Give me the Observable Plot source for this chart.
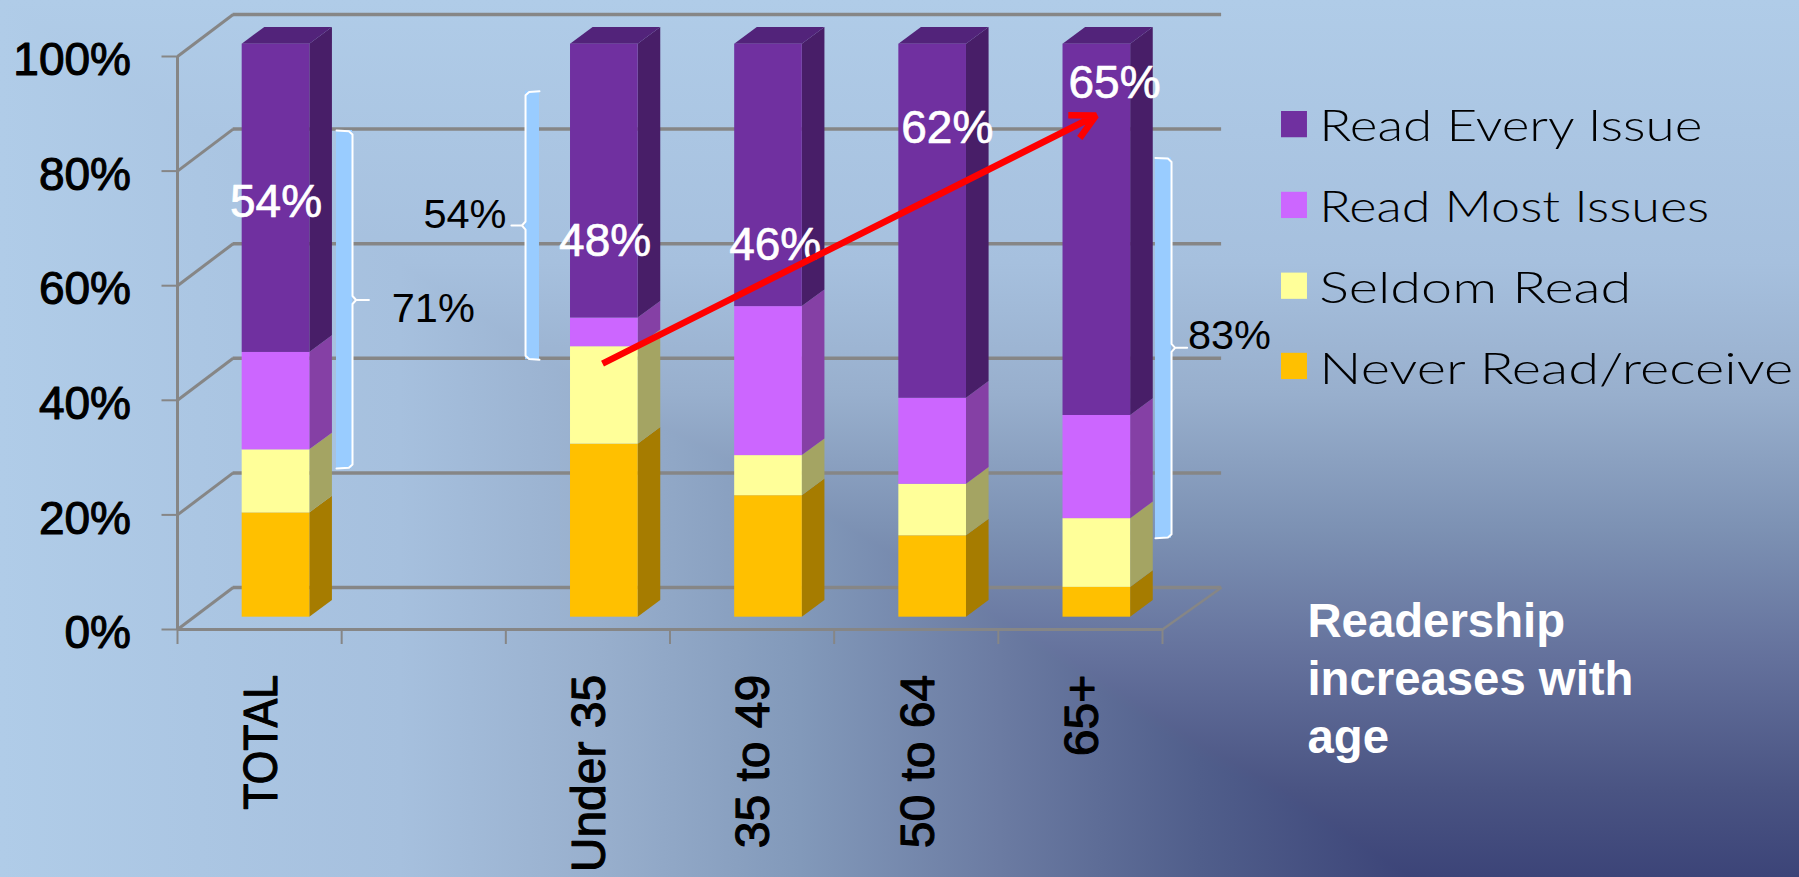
<!DOCTYPE html>
<html>
<head>
<meta charset="utf-8">
<style>
html,body{margin:0;padding:0;width:1799px;height:877px;overflow:hidden;}
body{
  background-image:
    linear-gradient(to right,#b0cce8 0px,#a6c0de 400px,#98afcd 600px,#8299ba 800px,#6b7ba2 1000px,#505e8b 1200px,#3c4478 1411px,#3c4478 1799px),
    linear-gradient(to bottom,#b0cce8 0%,#a6c0de 30%,#98afcd 45%,#7d92b4 60%,#64719c 75%,#4a5483 90%,#3c4478 100%);
  background-blend-mode:lighten;
}
svg{display:block;}
</style>
<script src="https://cdn.jsdelivr.net/npm/d3@7"></script>
<script src="https://cdn.jsdelivr.net/npm/@observablehq/plot@0.6"></script>
</head>
<body>
<script>
// ---- chart values (percent of respondents)
const categories = ["TOTAL", "", "Under 35", "35 to 49", "50 to 64", "65+"];
const never  = [18.2, null, 30.2, 21.2, 14.2, 5.2];
const seldom = [11, null, 17,  7,  9, 12];
const most   = [17, null,  5, 26, 15, 18];
const every  = [53.8, null, 47.8, 45.8, 61.8, 64.8];
const seriesNames = ["Never Read/receive", "Seldom Read", "Read Most Issues", "Read Every Issue"];
const yTicks = [0, 20, 40, 60, 80, 100];
const slotTicks = [0, 1, 2, 3, 4, 5, 6];

// ---- styles
const frontColors = ["#FFC000", "#FFFF99", "#CC66FF", "#7030A0"];
const sideColors  = ["#A67C00", "#A4A463", "#8540A5", "#481E68"];
const topColor = "#52237A";
const gridColor = "#868686";
const sans = "Liberation Sans";

// ---- 3-D projection, in data units (slots across, percent up)
const wallDx = 0.339, wallDy = 7.33;      // floor depth of the plot box
const barDx = 0.1377, barDy = 2.91;       // depth of a column
const frontDx = 0.1, frontDy = 2.15;      // where the columns' front faces sit
const halfWidth = 0.206;

const columns = [never, seldom, most, every];
const segments = [];
categories.forEach((c, i) => {
  if (every[i] == null) return;
  let base = 0;
  columns.forEach((col, s) => {
    const l = i + 0.5 + frontDx - halfWidth, r = i + 0.5 + frontDx + halfWidth;
    segments.push({i, s, l, r, y1: base + frontDy, y2: base + col[i] + frontDy});
    base += col[i];
  });
});
const sideRows = segments.flatMap((d, k) => [
  {k, s: d.s, x: d.r, y1: d.y1, y2: d.y2},
  {k, s: d.s, x: d.r + barDx, y1: d.y1 + barDy, y2: d.y2 + barDy}
]);
const topRows = segments.filter(d => d.s === 3).flatMap(d => [
  {i: d.i, y: d.y2, x1: d.l, x2: d.r},
  {i: d.i, y: d.y2 + barDy, x1: d.l + barDx, x2: d.r + barDx}
]);

// ---- annotations (data units)
const whiteLabels = [
  {t: "54%", x: 0.600, y: 71.95},
  {t: "48%", x: 2.605, y: 65.1},
  {t: "46%", x: 3.641, y: 64.4},
  {t: "62%", x: 4.689, y: 84.87},
  {t: "65%", x: 5.708, y: 92.8}
];
const blackLabels = [
  {t: "71%", x: 1.558, y: 53.6},
  {t: "54%", x: 1.751, y: 70.0},
  {t: "83%", x: 6.408, y: 49.04}
];
const braces = [
  {x0: 0.9685, x1: 1.066, tip: 1.166, y1: 28.1, y2: 87.09, mid: 57.5},
  {x0: 2.205, x1: 2.12, tip: 2.034, y1: 47.07, y2: 93.94, mid: 70.5},
  {x0: 5.957, x1: 6.055, tip: 6.150, y1: 15.93, y2: 82.3, mid: 49.16}
];
const braceLines = braces.flatMap((b, k) => {
  const sg = Math.sign(b.x1 - b.x0), rx = 0.022 * sg, ry = 0.7;
  return [
    [b.x0, b.y2], [b.x1 - rx, b.y2 - 0.12], [b.x1, b.y2 - ry],
    [b.x1, b.mid + ry], [b.x1 + rx, b.mid], [b.tip, b.mid],
    [b.x1 + rx, b.mid], [b.x1, b.mid - ry],
    [b.x1, b.y1 + ry], [b.x1 - rx, b.y1 + 0.12], [b.x0, b.y1]
  ].map(([x, y]) => ({k, x, y}));
});
const trendArrow = [{x1: 2.589, y1: 46.4, x2: 5.595, y2: 89.7}];
const legendRows = [
  {name: seriesNames[3], color: frontColors[3], top: 90.4, base: 85.2, len: 383},
  {name: seriesNames[2], color: frontColors[2], top: 76.3, base: 71.1, len: 390},
  {name: seriesNames[1], color: frontColors[1], top: 62.2, base: 57.0, len: 312},
  {name: seriesNames[0], color: frontColors[0], top: 48.2, base: 42.9, len: 474}
];

const fig = Plot.plot({
  width: 1799,
  height: 877,
  marginTop: 0, marginRight: 0, marginBottom: 0, marginLeft: 0,
  style: {background: "none", overflow: "visible"},
  x: {domain: [0, 6], range: [177, 1162], axis: null},
  y: {domain: [0, 100], range: [629, 56], axis: null},
  color: {type: "identity"},
  marks: [
    // plot box
    Plot.ruleY(yTicks, {y: d => d + wallDy, x1: wallDx, x2: 6.36, stroke: gridColor, strokeWidth: 3.5}),
    Plot.link(yTicks, {x1: 0, y1: d => d, x2: wallDx, y2: d => d + wallDy, stroke: gridColor, strokeWidth: 3}),
    Plot.link([0], {x1: 6, y1: 0, x2: 6.36, y2: wallDy, stroke: gridColor, strokeWidth: 2.5}),
    Plot.ruleX([0], {y1: 0, y2: 100, stroke: gridColor, strokeWidth: 3}),
    Plot.ruleY([0], {x1: 0, x2: 6, stroke: gridColor, strokeWidth: 3}),

    // axis ticks and labels, through the x and y scales
    Plot.ruleX(slotTicks, {y1: 0, y2: -2.62, stroke: gridColor, strokeWidth: 2}),
    Plot.ruleY(yTicks, {x1: -0.0944, x2: 0, stroke: gridColor, strokeWidth: 2}),
    Plot.text(yTicks, {
      x: 0, y: d => d, text: d => d + "%", dx: -46.5, dy: 4,
      textAnchor: "end", lineAnchor: "middle", fontSize: 46, fontFamily: sans,
      fill: "black", stroke: "black", strokeWidth: 1.1
    }),
    Plot.text(categories, {
      x: (d, i) => i + 0.5, y: () => -7.9, text: d => d, dx: 2, rotate: -90,
      textAnchor: "end", lineAnchor: "middle", fontSize: 48, fontFamily: sans,
      fill: "black", stroke: "black", strokeWidth: 1.1, className: "xlab"
    }),

    // columns
    Plot.areaY(sideRows, {x: "x", y1: "y1", y2: "y2", z: "k", fill: d => sideColors[d.s]}),
    Plot.areaX(topRows, {y: "y", x1: "x1", x2: "x2", z: "i", fill: topColor}),
    Plot.rect(segments, {x1: "l", x2: "r", y1: "y1", y2: "y2", fill: d => frontColors[d.s]}),

    // braces
    Plot.rect(braces, {x1: "x0", x2: "x1", y1: "y1", y2: "y2", fill: "#99CCFF"}),
    Plot.line(braceLines, {x: "x", y: "y", z: "k", stroke: "white", strokeWidth: 2}),

    // labels
    Plot.text(blackLabels, {x: "x", y: "y", text: "t", lineAnchor: "bottom", fontSize: 41.5, fontFamily: sans, fill: "black"}),
    Plot.text(whiteLabels, {x: "x", y: "y", text: "t", lineAnchor: "bottom", fontSize: 46, fontFamily: sans, fill: "white", stroke: "white", strokeWidth: 0.7}),

    // trend arrow
    Plot.arrow(trendArrow, {x1: "x1", y1: "y1", x2: "x2", y2: "y2", stroke: "#FF0000", strokeWidth: 6.5, bend: 0, headLength: 6.4, headAngle: 55, strokeLinecap: "butt"}),

    // legend
    Plot.rect(legendRows, {x1: 6.725, x2: 6.883, y1: d => d.top - 4.58, y2: "top", fill: "color"}),
    Plot.text(legendRows, {
      x: 6.955, y: "base", text: "name", textAnchor: "start", lineAnchor: "bottom",
      fontSize: 44, fontFamily: "Lato", fontWeight: 300, fill: "black", className: "legendtext"
    }),

    // note
    Plot.text(["Readership\nincreases with\nage"], {
      x: 6.883, y: -21.52, text: d => d, textAnchor: "start", lineAnchor: "bottom", lineHeight: 1.22,
      fontSize: 47.3, fontFamily: sans, fontWeight: 700, fill: "white"
    })
  ]
});
document.body.appendChild(fig);

// fit stretched text to its measured length in the chart
d3.select(fig).selectAll("g.legendtext text").each(function (d, i) {
  this.setAttribute("textLength", legendRows[i].len);
  this.setAttribute("lengthAdjust", "spacingAndGlyphs");
});
d3.select(fig).selectAll("g.xlab text").filter(function () { return this.textContent === "TOTAL"; })
  .attr("textLength", 135).attr("lengthAdjust", "spacingAndGlyphs");
</script>
</body>
</html>
